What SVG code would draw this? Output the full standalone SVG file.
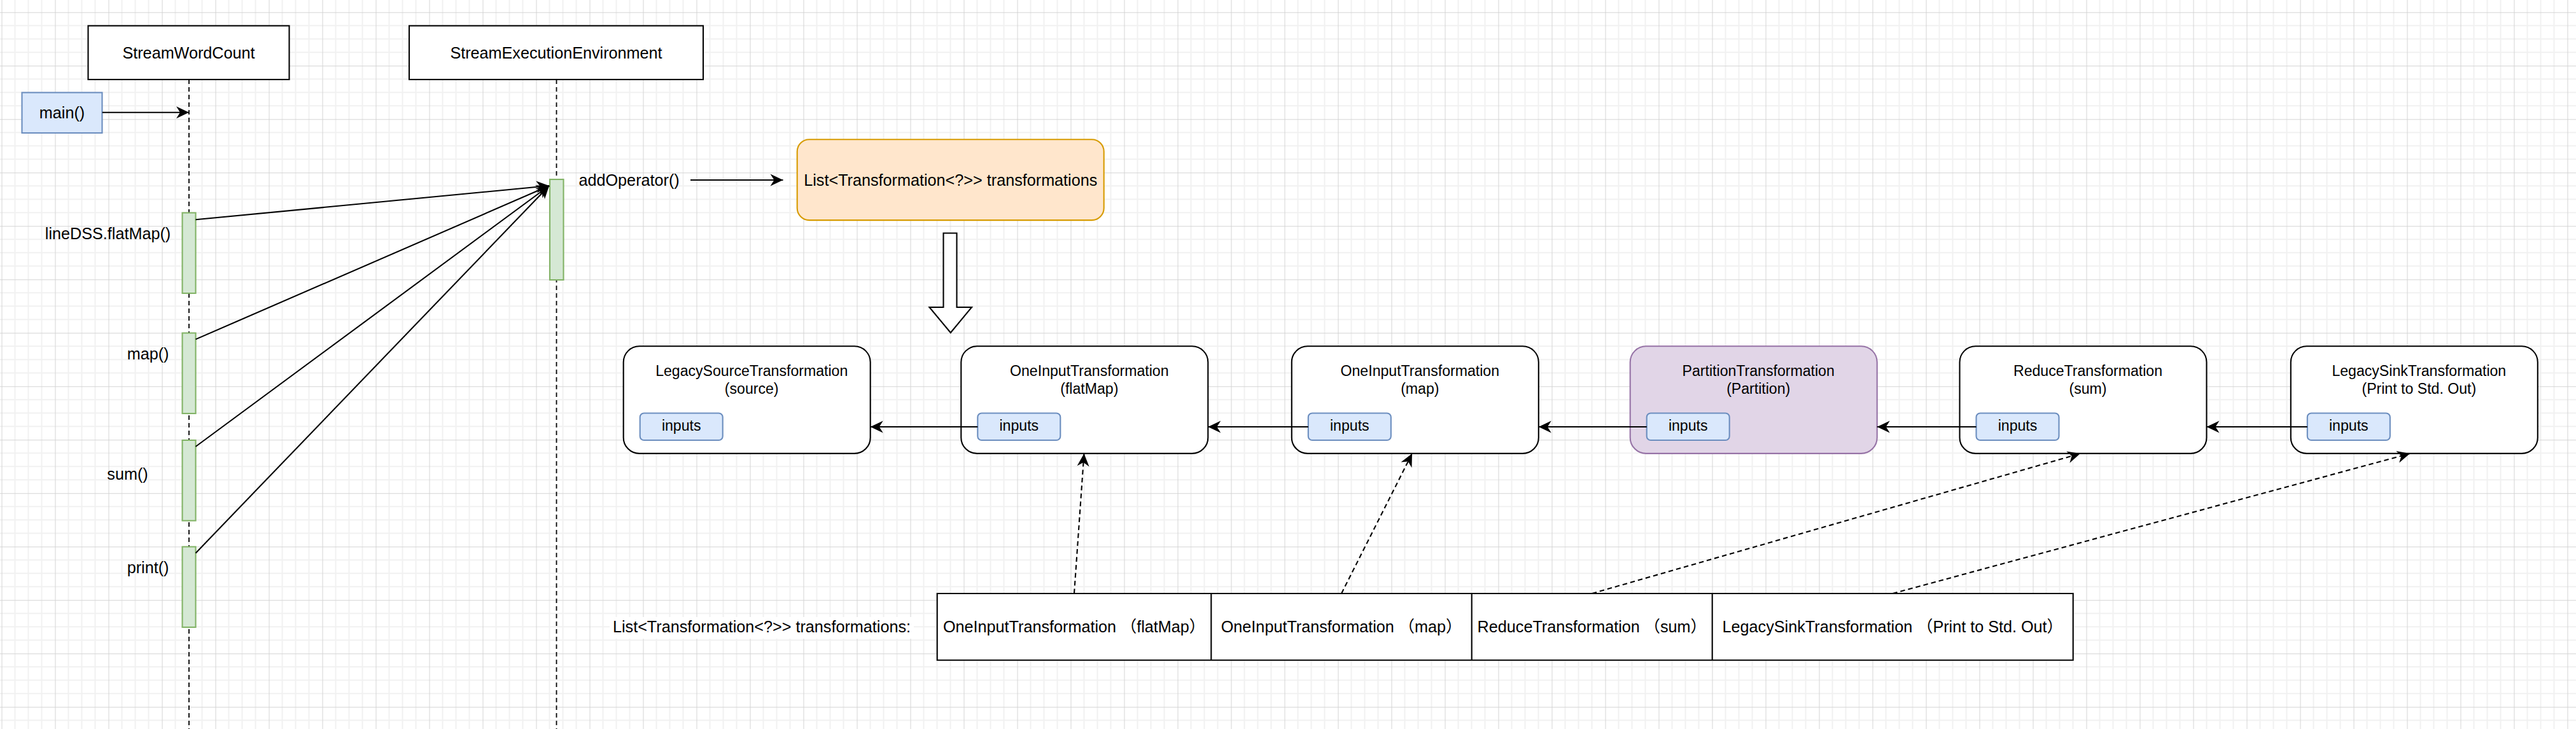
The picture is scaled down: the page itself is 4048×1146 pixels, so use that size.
<svg xmlns="http://www.w3.org/2000/svg" width="4048" height="1146" viewBox="0 0 4048 1146">
<style>
.t{font-family:"Liberation Sans",Arial,"Noto Sans CJK SC",sans-serif;fill:#000}
.f12{font-size:25.2px}
.f11{font-size:23.1px}
.box{fill:#fff;stroke:#000;stroke-width:2.1}
.blue{fill:#dae8fc;stroke:#6c8ebf;stroke-width:2.1}
.green{fill:#d5e8d4;stroke:#82b366;stroke-width:2.1}
.orange{fill:#ffe6cc;stroke:#d79b00;stroke-width:2.1}
.purple{fill:#e1d5e7;stroke:#9673a6;stroke-width:2.1}
.life{stroke:#000;stroke-width:1.8;stroke-dasharray:7 5;fill:none}
.conn{stroke:#000;stroke-width:2.1;fill:none;marker-end:url(#arr)}
.dash{stroke-dasharray:7.5 5}
.cell{stroke:#000;stroke-width:2.1;fill:none}
</style>
<defs>
<pattern id="grid" patternUnits="userSpaceOnUse" x="2.5" y="19.3" width="84" height="84">
<path d="M21 0V84M42 0V84M63 0V84M0 21H84M0 42H84M0 63H84" stroke="#f1f1f1" stroke-width="2" fill="none"/>
<path d="M0.5 0V84M0 0.5H84" stroke="#d4d4d4" stroke-width="1" fill="none"/>
</pattern>
<marker id="arr" markerUnits="userSpaceOnUse" markerWidth="24" markerHeight="22" viewBox="-2 -11 24 22" refX="20" refY="0" orient="auto">
<path d="M0,-9.5 L20,0 L0,9.5 L6,0 Z" fill="#000"/>
</marker>
</defs>
<rect x="0" y="0" width="4048" height="1146" fill="#fff"/>
<rect x="0" y="0" width="4048" height="1146" fill="url(#grid)"/>

<g id="nodes">
<g id="streamWordCount">
<line class="life" x1="297" y1="125" x2="297" y2="1146"/>
<rect class="box" x="138.5" y="40.5" width="316" height="84.5"/>
<text class="t f12" x="296.5" y="91.7" text-anchor="middle">StreamWordCount</text>
</g>
<g id="streamExecutionEnvironment">
<line class="life" x1="874.5" y1="125" x2="874.5" y2="1146"/>
<rect class="box" x="643" y="40.5" width="462" height="84.5"/>
<text class="t f12" x="874" y="91.7" text-anchor="middle">StreamExecutionEnvironment</text>
</g>
<g id="main">
<rect class="blue" x="34.5" y="145.5" width="126" height="63.5"/>
<text class="t f12" x="97.5" y="186" text-anchor="middle">main()</text>
</g>
<g id="bar-flatMap">
<rect class="green" x="286.5" y="334.5" width="21" height="126.5"/>
<text class="t f12" x="169.5" y="375.5" text-anchor="middle">lineDSS.flatMap()</text>
</g>
<g id="bar-map">
<rect class="green" x="286.5" y="523.5" width="21" height="126.5"/>
<text class="t f12" x="232.6" y="565" text-anchor="middle">map()</text>
</g>
<g id="bar-sum">
<rect class="green" x="286.5" y="692" width="21" height="126.5"/>
<text class="t f12" x="200.5" y="753.5" text-anchor="middle">sum()</text>
</g>
<g id="bar-print">
<rect class="green" x="286.5" y="859.5" width="21" height="126.5"/>
<text class="t f12" x="232.6" y="901" text-anchor="middle">print()</text>
</g>
<g id="bar-env">
<rect class="green" x="864" y="282" width="21.5" height="158"/>
<text class="t f12" x="909.5" y="291.5">addOperator()</text>
</g>
<g id="transformations-list">
<rect class="orange" x="1252.7" y="219.3" width="482" height="126.8" rx="19" ry="19"/>
<text class="t f12" x="1493.8" y="291.7" text-anchor="middle">List&lt;Transformation&lt;?&gt;&gt; transformations</text>
</g>
<g id="block-arrow">
<polygon points="1482.5,366.5 1503.5,366.5 1503.5,483 1527,483 1493.8,523 1460.5,483 1482.5,483" fill="#fff" stroke="#000" stroke-width="2.1" stroke-linejoin="miter"/>
</g>
<g id="t-source" transform="translate(979.7,544.3)">
<rect class="box" x="0" y="0" width="388" height="168.6" rx="25" ry="25"/>
<text class="t f11" x="201.5" y="46.7" text-anchor="middle">LegacySourceTransformation</text>
<text class="t f11" x="201.5" y="74.4" text-anchor="middle">(source)</text>
<rect class="blue" x="26" y="105.2" width="130" height="42.5" rx="6.3" ry="6.3"/>
<text class="t f11" x="91" y="133.2" text-anchor="middle">inputs</text>
</g>
<g id="t-flatMap" transform="translate(1510.3,544.3)">
<rect class="box" x="0" y="0" width="388" height="168.6" rx="25" ry="25"/>
<text class="t f11" x="201.5" y="46.7" text-anchor="middle">OneInputTransformation</text>
<text class="t f11" x="201.5" y="74.4" text-anchor="middle">(flatMap)</text>
<rect class="blue" x="26" y="105.2" width="130" height="42.5" rx="6.3" ry="6.3"/>
<text class="t f11" x="91" y="133.2" text-anchor="middle">inputs</text>
</g>
<g id="t-map" transform="translate(2029.8,544.3)">
<rect class="box" x="0" y="0" width="388" height="168.6" rx="25" ry="25"/>
<text class="t f11" x="201.5" y="46.7" text-anchor="middle">OneInputTransformation</text>
<text class="t f11" x="201.5" y="74.4" text-anchor="middle">(map)</text>
<rect class="blue" x="26" y="105.2" width="130" height="42.5" rx="6.3" ry="6.3"/>
<text class="t f11" x="91" y="133.2" text-anchor="middle">inputs</text>
</g>
<g id="t-partition" transform="translate(2561.7,544.3)">
<rect class="purple" x="0" y="0" width="388" height="168.6" rx="25" ry="25"/>
<text class="t f11" x="201.5" y="46.7" text-anchor="middle">PartitionTransformation</text>
<text class="t f11" x="201.5" y="74.4" text-anchor="middle">(Partition)</text>
<rect class="blue" x="26" y="105.2" width="130" height="42.5" rx="6.3" ry="6.3"/>
<text class="t f11" x="91" y="133.2" text-anchor="middle">inputs</text>
</g>
<g id="t-reduce" transform="translate(3079.5,544.3)">
<rect class="box" x="0" y="0" width="388" height="168.6" rx="25" ry="25"/>
<text class="t f11" x="201.5" y="46.7" text-anchor="middle">ReduceTransformation</text>
<text class="t f11" x="201.5" y="74.4" text-anchor="middle">(sum)</text>
<rect class="blue" x="26" y="105.2" width="130" height="42.5" rx="6.3" ry="6.3"/>
<text class="t f11" x="91" y="133.2" text-anchor="middle">inputs</text>
</g>
<g id="t-sink" transform="translate(3599.8,544.3)">
<rect class="box" x="0" y="0" width="388" height="168.6" rx="25" ry="25"/>
<text class="t f11" x="201.5" y="46.7" text-anchor="middle">LegacySinkTransformation</text>
<text class="t f11" x="201.5" y="74.4" text-anchor="middle">(Print to Std. Out)</text>
<rect class="blue" x="26" y="105.2" width="130" height="42.5" rx="6.3" ry="6.3"/>
<text class="t f11" x="91" y="133.2" text-anchor="middle">inputs</text>
</g>
<g id="list-label">
<rect x="958" y="970" width="478" height="34" fill="#fff"/>
<text class="t f12" x="1197" y="994" text-anchor="middle">List&lt;Transformation&lt;?&gt;&gt; transformations:</text>
</g>
<g id="list-table">
<rect x="1472.7" y="933" width="1785" height="104.7" fill="#fff"/>
<path class="cell" d="M1472.7 933H3257.7V1037.7H1472.7Z M1903.3 933V1037.7 M2312.7 933V1037.7 M2690.7 933V1037.7"/>
<text class="t f12" x="1688" y="994" text-anchor="middle">OneInputTransformation （flatMap）</text>
<text class="t f12" x="2108" y="994" text-anchor="middle">OneInputTransformation （map）</text>
<text class="t f12" x="2501.7" y="994" text-anchor="middle">ReduceTransformation （sum）</text>
<text class="t f12" x="2974.2" y="994" text-anchor="middle">LegacySinkTransformation （Print to Std. Out）</text>
</g>
</g>

<g id="connectors">
<path class="conn" d="M160.7 176.7H297"/>
<path class="conn" d="M307.5 345.3L863 292"/>
<path class="conn" d="M307.5 533.4L863 292"/>
<path class="conn" d="M307.5 702L863 292"/>
<path class="conn" d="M307.5 869.4L863 292"/>
<path class="conn" d="M1085 283H1230.5"/>
<path class="conn" d="M1536.3 671H1367.7"/>
<path class="conn" d="M2055.8 671H1898.3"/>
<path class="conn" d="M2587.7 671H2417.8"/>
<path class="conn" d="M3105.5 671H2949.7"/>
<path class="conn" d="M3625.8 671H3467.5"/>
<path class="conn dash" d="M1688 933L1703.5 713"/>
<path class="conn dash" d="M2108 933L2219 713"/>
<path class="conn dash" d="M2501.7 933L3269 713"/>
<path class="conn dash" d="M2974.2 933L3787 713"/>
</g>
</svg>
